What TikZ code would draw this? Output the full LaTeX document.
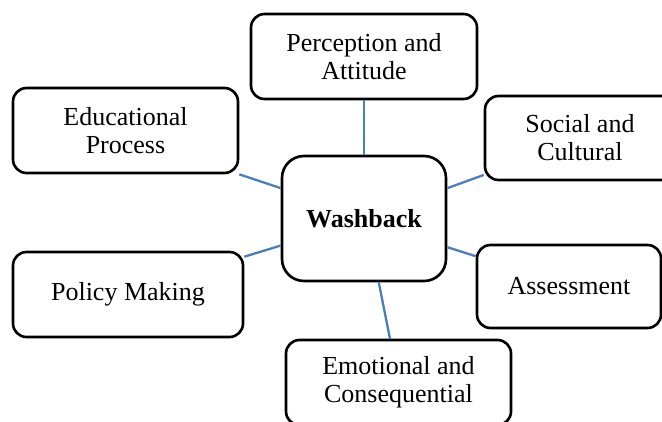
\documentclass[tikz,border=0pt]{standalone}
\usepackage{fontspec}
\setmainfont{Liberation Serif}
\usepackage{tikz}
\definecolor{linkblue}{HTML}{4A7EBB}

\begin{document}
\begin{tikzpicture}[
    box/.style={draw, line width=1.5pt, rounded corners=0.27cm, align=center,
        font=\fontsize{14.8}{15.9}\selectfont, inner sep=0pt},
    link/.style={draw=linkblue, line width=1.3pt}
]
    \useasboundingbox (0, 0) rectangle (13.24, 8.42);

    % Centre
    \node[box, rounded corners=0.44cm, minimum width=3.28cm, minimum height=2.5cm] (wash) at (7.28, 4.05) {\textbf{Washback}};

    % Surrounding aspects
    \node[box, minimum width=4.52cm, minimum height=1.7cm] (perc) at (7.28, 7.29) {Perception and\\Attitude};
    \node[box, minimum width=4.5cm, minimum height=1.7cm] (edu) at (2.51, 5.81) {Educational\\Process};
    \node[box, minimum width=3.8cm, minimum height=1.68cm] (soc) at (11.6, 5.66) {Social and\\Cultural};
    \node[box, minimum width=4.6cm, minimum height=1.7cm] (pol) at (2.56, 2.53) {Policy Making};
    \node[box, minimum width=3.68cm, minimum height=1.66cm] (assess) at (11.38, 2.69) {Assessment};
    \node[box, minimum width=4.5cm, minimum height=1.7cm] (emo) at (7.97, 0.77) {Emotional and\\Consequential};

    % Links to the centre
    \draw[link] (perc.south) -- (wash.north);
    \draw[link] (edu.south east) -- (wash.160);
    \draw[link] (soc.201) -- (wash.20);
    \draw[link] (pol.18) -- (wash.198);
    \draw[link] (assess.162) -- (wash.341);
    \draw[link] (emo.101) -- (wash.283);
\end{tikzpicture}
\end{document}
